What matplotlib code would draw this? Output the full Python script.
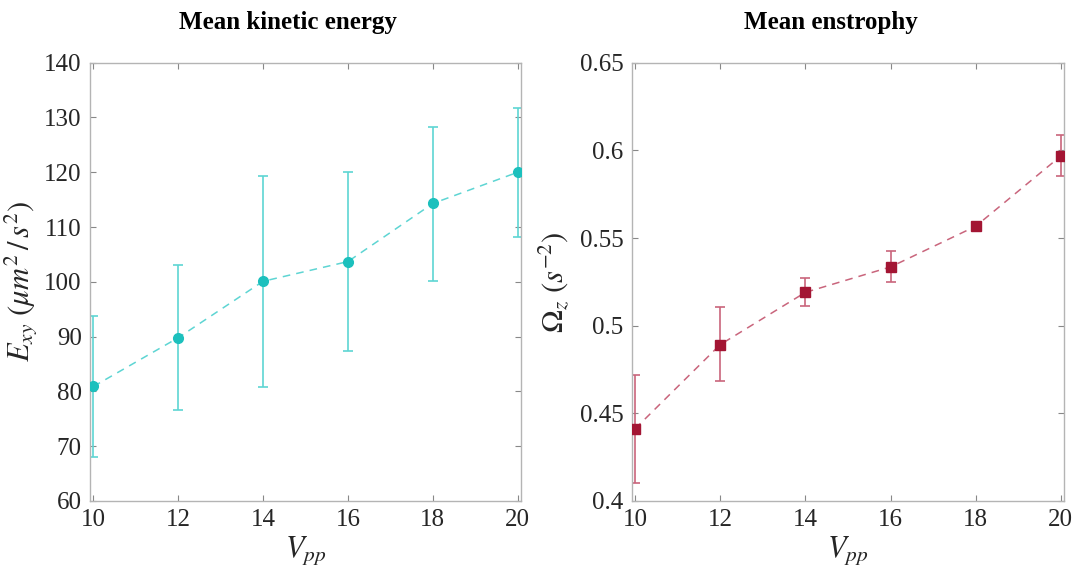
import matplotlib
matplotlib.use("Agg")
import matplotlib.pyplot as plt

plt.rcParams['font.family'] = ['Liberation Serif', 'DejaVu Serif']
plt.rcParams['mathtext.fontset'] = 'stix'

vpp = [10, 12, 14, 16, 18, 20]
energy = [80.9, 89.8, 100.1, 103.7, 114.3, 120.0]
energy_lo = [68.1, 76.6, 80.8, 87.4, 100.2, 108.2]
energy_hi = [93.7, 103.1, 119.4, 120.1, 128.3, 131.8]
enstrophy = [0.4412, 0.4892, 0.5190, 0.5335, 0.5567, 0.5968]
enstrophy_lo = [0.4103, 0.4683, 0.5115, 0.5250, 0.5560, 0.5855]
enstrophy_hi = [0.4720, 0.5105, 0.5270, 0.5425, 0.5575, 0.6085]

fig = plt.figure(figsize=(10.75, 5.71), dpi=100)
ax1 = fig.add_axes([0.0837, 0.1226, 0.401, 0.7676])
ax2 = fig.add_axes([0.5876, 0.1226, 0.4024, 0.7676])

def style(ax):
    for s in ax.spines.values():
        s.set_color('#b4b4b4')
        s.set_linewidth(1.0)
    ax.tick_params(direction='in', top=True, right=True, length=4, width=0.8,
                   color='#888888', labelsize=18, labelcolor='#262626', pad=6)

cyan = '#1cc0bd'
cyan_l = '#5ed5d3'
red = '#a31533'
red_l = '#c9657c'

lo = [e - l for e, l in zip(energy, energy_lo)]
hi = [h - e for e, h in zip(energy, energy_hi)]
ax1.errorbar(vpp, energy, yerr=[lo, hi], fmt='none', ecolor=cyan_l, elinewidth=1.2,
             capsize=3.5, capthick=1.2, zorder=2)
ax1.plot(vpp, energy, '--', color=cyan_l, lw=1.1, dashes=(5, 4), zorder=3)
ax1.plot(vpp, energy, 'o', color=cyan, ms=7, mec=cyan, zorder=4)
ax1.set_xlim(9.92, 20.08)
ax1.set_ylim(60, 140)
ax1.set_xticks([10, 12, 14, 16, 18, 20])
ax1.set_yticks(range(60, 141, 10))
ax1.set_xlabel(r'$V_{pp}$', fontsize=22, color='#262626', labelpad=2)
ax1.set_ylabel(r'$E_{xy}\ (\mu m^2\,/\,s^2)$', fontsize=22, color='#262626', labelpad=3)
ax1.set_title('Mean kinetic energy', fontsize=18, fontweight='bold', pad=24, x=0.46)
style(ax1)

lo2 = [e - l for e, l in zip(enstrophy, enstrophy_lo)]
hi2 = [h - e for e, h in zip(enstrophy, enstrophy_hi)]
ax2.errorbar(vpp, enstrophy, yerr=[lo2, hi2], fmt='none', ecolor=red_l, elinewidth=1.2,
             capsize=3.5, capthick=1.2, zorder=2)
ax2.plot(vpp, enstrophy, '--', color=red_l, lw=1.1, dashes=(5, 4), zorder=3)
ax2.plot(vpp, enstrophy, 's', color=red, ms=6.5, mec=red, zorder=4)
ax2.set_xlim(9.92, 20.08)
ax2.set_ylim(0.4, 0.65)
ax2.set_xticks([10, 12, 14, 16, 18, 20])
ax2.set_yticks([0.4, 0.45, 0.5, 0.55, 0.6, 0.65])
ax2.set_yticklabels(['0.4', '0.45', '0.5', '0.55', '0.6', '0.65'])
ax2.set_xlabel(r'$V_{pp}$', fontsize=22, color='#262626', labelpad=2)
ax2.set_ylabel(r'$\Omega_z\ (s^{-2})$', fontsize=22, color='#262626', labelpad=6)
ax2.set_title('Mean enstrophy', fontsize=18, fontweight='bold', pad=24, x=0.46)
style(ax2)

fig.savefig('out.png', dpi=100)
